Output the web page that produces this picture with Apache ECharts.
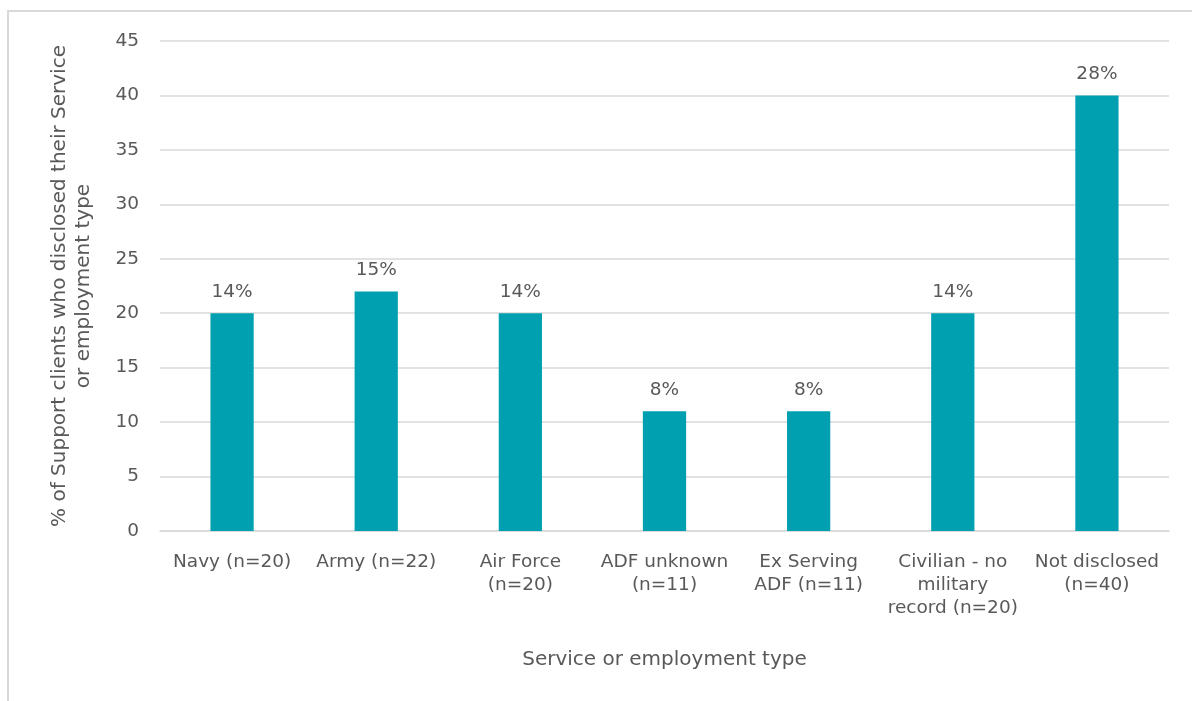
<!DOCTYPE html>
<html>
<head>
<meta charset="utf-8">
<script src="https://cdn.jsdelivr.net/npm/echarts@6/dist/echarts.min.js"></script>
<style>
html,body{margin:0;padding:0;background:#fff;}
#c{width:1192px;height:701px;}
</style>
</head>
<body>
<div id="c"></div>
<script>
const categories = ["Navy (n=20)", "Army (n=22)", "Air Force\n(n=20)", "ADF unknown\n(n=11)", "Ex Serving\nADF (n=11)", "Civilian - no\nmilitary\nrecord (n=20)", "Not disclosed\n(n=40)"];
const counts = [20, 22, 20, 11, 11, 20, 40];
const percentLabels = ["14%", "15%", "14%", "8%", "8%", "14%", "28%"];
const yTicks = [0, 5, 10, 15, 20, 25, 30, 35, 40, 45];

const font = "'DejaVu Sans', 'Open Sans', sans-serif";
const chart = echarts.init(document.getElementById('c'), null, {renderer: 'canvas'});
chart.setOption({
  animation: false,
  backgroundColor: '#fff',
  graphic: [{
    type: 'rect', silent: true, z: -1,
    shape: {x: 8, y: 11, width: 1220, height: 730},
    style: {fill: 'none', stroke: '#d9d9d9', lineWidth: 2}
  }],
  grid: {left: 160, right: 23, top: 41, bottom: 170, containLabel: false},
  xAxis: {
    type: 'category',
    data: categories,
    name: 'Service or employment type',
    nameLocation: 'middle',
    nameGap: 119,
    nameTextStyle: {color: '#595959', fontSize: 20, fontFamily: font},
    axisLine: {lineStyle: {color: '#d9d9d9', width: 1.5}},
    axisTick: {show: false},
    axisLabel: {color: '#595959', fontSize: 18.5, fontFamily: font, lineHeight: 23, margin: 20, interval: 0}
  },
  yAxis: {
    type: 'value',
    min: yTicks[0], max: yTicks[yTicks.length - 1], interval: 5,
    name: '% of Support clients who disclosed their Service\nor employment type',
    nameLocation: 'middle',
    nameGap: 64,
    nameTextStyle: {color: '#595959', fontSize: 20, fontFamily: font, lineHeight: 24},
    axisLine: {show: false},
    axisTick: {show: false},
    axisLabel: {color: '#595959', fontSize: 18.5, fontFamily: font, margin: 21},
    splitLine: {lineStyle: {color: '#d9d9d9', width: 1.5}}
  },
  series: [{
    type: 'bar',
    data: counts,
    barWidth: '30%',
    itemStyle: {color: '#00A0B1'},
    label: {
      show: true, position: 'top', distance: 12,
      color: '#595959', fontSize: 18.5, fontFamily: font,
      formatter: p => percentLabels[p.dataIndex]
    }
  }]
});
</script>
</body>
</html>
